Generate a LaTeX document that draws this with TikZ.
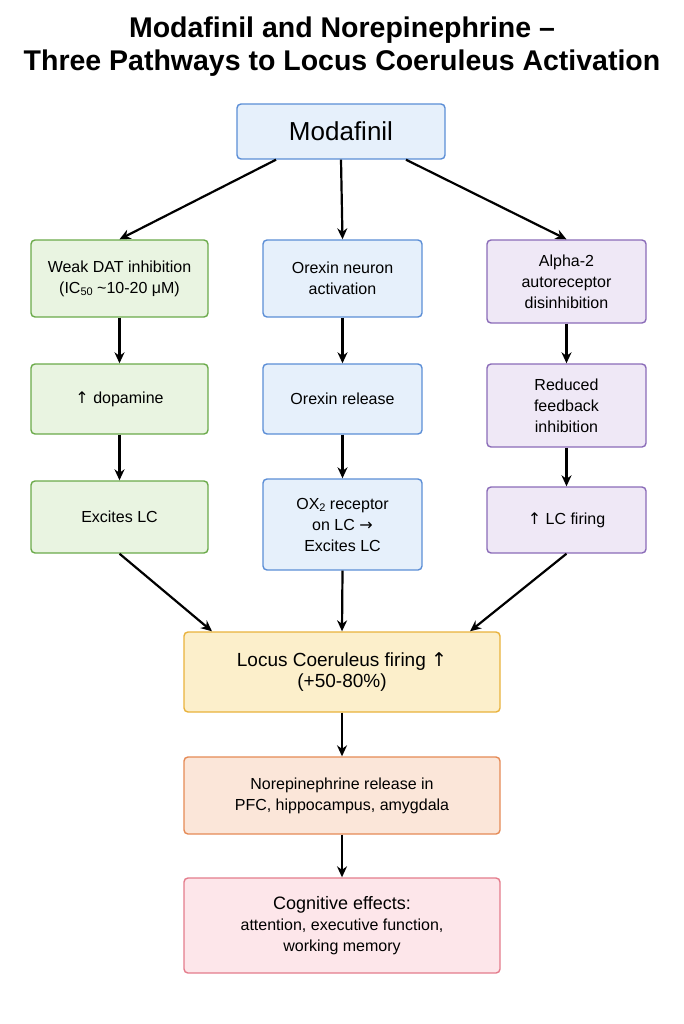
\documentclass[tikz,border=0pt]{standalone}
\usepackage{fontspec}
\setmainfont{Liberation Sans}
\newfontfamily\djvfont{DejaVu Sans}
\newcommand{\myup}{{\djvfont ↑}}
\newcommand{\myrarr}{{\djvfont →}}
\newcommand{\tsub}[1]{\raisebox{-0.25ex}{\fontsize{11}{11}\selectfont #1}}
\usetikzlibrary{arrows.meta}
\definecolor{gF}{HTML}{E9F4E1}\definecolor{gD}{HTML}{6BAA4A}
\definecolor{bF}{HTML}{E6F0FB}\definecolor{bD}{HTML}{5B8ED6}
\definecolor{pF}{HTML}{EFE8F6}\definecolor{pD}{HTML}{8A6BB8}
\definecolor{yF}{HTML}{FCEFCB}\definecolor{yD}{HTML}{E9B23C}
\definecolor{oF}{HTML}{FBE6D9}\definecolor{oD}{HTML}{E58A55}
\definecolor{rF}{HTML}{FDE6EA}\definecolor{rD}{HTML}{E47C8C}
\begin{document}
\begin{tikzpicture}[x=1pt,y=-1pt,
 box/.style={draw=#1D,fill=#1F,line width=1.4pt,rounded corners=4pt,align=center,font=\fontsize{16}{21}\selectfont,inner sep=2pt},
 arr/.style={-{Stealth[length=11pt,width=10pt]},line width=2.2pt}]
\useasboundingbox (0,0) rectangle (683,1024);
\node[font=\bfseries\fontsize{28.5}{33}\selectfont,align=center] (title) at (342,47) {Modafinil and Norepinephrine –\\Three Pathways to Locus Coeruleus Activation};
\newcommand{\bx}[7]{\node[box=#1,minimum width=#4-#2,minimum height=#5-#3] (#6) at ({(#2+#4)/2},{(#3+#5)/2}) {#7};}
\bx{b}{237}{104}{445}{159}{mod}{\fontsize{26}{30}\selectfont Modafinil}
\bx{g}{31}{240}{208}{317}{l1}{Weak DAT inhibition\\(IC\tsub{50} \textasciitilde10-20 μM)}
\bx{g}{31}{364}{208}{434}{l2}{\myup\ dopamine}
\bx{g}{31}{481}{208}{553}{l3}{Excites LC}
\bx{b}{263}{240}{422}{317}{m1}{Orexin neuron\\activation}
\bx{b}{263}{364}{422}{434}{m2}{Orexin release}
\bx{b}{263}{479}{422}{570}{m3}{OX\tsub{2} receptor\\on LC \myrarr\\Excites LC}
\bx{p}{487}{240}{646}{323}{r1}{Alpha-2\\autoreceptor\\disinhibition}
\bx{p}{487}{364}{646}{447}{r2}{Reduced\\feedback\\inhibition}
\bx{p}{487}{487}{646}{553}{r3}{\myup\ LC firing}
\bx{y}{184}{632}{500}{712}{lc}{\fontsize{19}{25}\selectfont Locus Coeruleus firing \myup\\\fontsize{19}{25}\selectfont (+50-80\%)}
\bx{o}{184}{757}{500}{834}{ne}{Norepinephrine release in\\PFC, hippocampus, amygdala}
\bx{r}{184}{878}{500}{973}{cog}{\fontsize{18}{23}\selectfont Cognitive effects:\\attention, executive function,\\working memory}
\draw[arr] ([xshift=-65pt]mod.south) -- (l1.north);
\draw[arr] (mod.south) -- (m1.north);
\draw[arr] ([xshift=65pt]mod.south) -- (r1.north);
\draw[arr] (l1) -- (l2); \draw[arr] (l2) -- (l3);
\draw[arr] (m1) -- (m2); \draw[arr] (m2) -- (m3);
\draw[arr] (r1) -- (r2); \draw[arr] (r2) -- (r3);
\draw[arr] (l3.south) -- ([xshift=-130pt]lc.north);
\draw[arr] (m3.south) -- (lc.north);
\draw[arr] (r3.south) -- ([xshift=128pt]lc.north);
\draw[arr] (lc) -- (ne); \draw[arr] (ne) -- (cog);
\end{tikzpicture}
\end{document}
